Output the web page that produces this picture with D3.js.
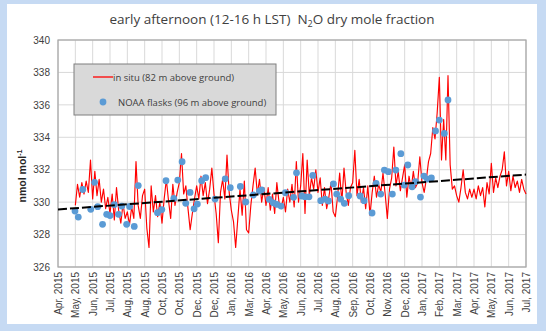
<!DOCTYPE html>
<html lang="en">
<head>
<meta charset="utf-8">
<title>N2O dry mole fraction</title>
<script src="https://cdn.jsdelivr.net/npm/d3@7"></script>
<style>
body { margin:0; background:#c6daf3; }
#chart { position:relative; width:546px; height:331px; }
.tick text { font-family:"Liberation Sans", Arial, sans-serif; font-size:10px; fill:#404040; }
.grid line { stroke:#d9d9d9; stroke-width:1px; }
.title { font-family:"Open Sans", "Noto Sans", sans-serif; font-size:13.5px; fill:#404040; white-space:pre; }
.legend text { font-family:"Open Sans", "Noto Sans", sans-serif; font-size:9.5px; fill:#404040; }
</style>
</head>
<body>
<div id="chart"></div>
<script>
// axis labels along the bottom (one per category tick)
var tickLabels = ["Apr, 2015","May, 2015","Jun, 2015","Jul, 2015","Aug, 2015","Aug, 2015",
  "Oct, 2015","Oct, 2015","Dec, 2015","Dec, 2015","Jan, 2016","Mar, 2016","Apr, 2016",
  "May, 2016","Jun, 2016","Jul, 2016","Aug, 2016","Sep, 2016","Oct, 2016","Nov, 2016",
  "Dec, 2016","Jan, 2017","Feb, 2017","Mar, 2017","Apr, 2017","May, 2017","Jun, 2017","Jul, 2017"];
var yTicks = [326, 328, 330, 332, 334, 336, 338, 340];

// in situ record, 8 samples per tick, starting at tick 1
var perTick = 8, insituStart = 1;
var insitu = [
  329.8,331.1,330.3,331.2,330.5,331.3,330.6,332.6,
  330.2,331.9,330.4,331.4,330.0,330.8,329.6,330.3,
  329.3,330.5,328.9,330.9,329.5,328.7,329.9,329.0,
  329.4,328.6,329.7,329.0,332.5,329.8,329.0,330.4,
  330.8,328.4,327.2,331.0,329.4,330.4,329.1,330.0,
  328.7,330.2,331.4,330.1,329.0,331.1,329.8,330.6,
  331.2,333.0,330.5,331.0,329.6,328.3,329.3,330.2,
  331.0,330.2,331.6,330.4,331.2,329.9,330.8,332.1,
  330.5,329.3,327.5,330.6,331.4,330.2,332.9,330.6,
  329.5,328.8,327.2,329.0,330.8,329.2,331.3,328.3,
  328.1,329.8,331.0,332.1,330.5,331.4,330.0,330.9,
  329.8,330.9,329.5,330.5,329.3,331.2,330.0,329.6,
  330.3,329.4,330.8,330.0,331.1,329.7,332.5,330.0,
  331.0,333.0,329.3,332.6,330.4,331.5,330.8,332.0,
  330.6,331.5,329.8,330.9,329.6,330.3,331.2,329.4,
  329.1,330.3,331.8,330.0,332.1,330.6,329.8,330.9,
  331.2,333.2,330.4,331.4,330.0,330.9,329.6,331.0,
  329.2,330.6,331.6,330.3,331.1,330.6,331.8,330.5,
  329.0,330.8,331.5,333.4,331.0,331.9,330.7,331.5,
  332.3,330.3,331.6,330.8,331.9,330.9,331.2,332.8,
  331.2,330.6,331.4,332.5,333.0,334.6,333.9,335.5,
  337.7,332.6,335.1,332.6,337.8,332.3,330.8,331.0,
  330.4,330.0,330.9,332.0,330.6,330.2,330.8,330.3,
  330.8,330.2,331.0,330.4,330.9,329.7,331.2,330.5,
  332.4,330.6,331.5,330.9,331.6,332.0,333.1,331.0,
  331.9,330.7,331.6,330.9,331.3,330.6,331.4,330.8,
  330.5
];

// NOAA flask samples: position on the tick axis, value
var flaskPos = [0.98,1.17,1.43,1.89,2.11,2.29,2.57,2.81,3.00,3.25,3.49,3.68,3.96,4.13,4.40,4.63,
  5.74,5.99,6.23,6.68,6.91,7.16,7.37,7.62,7.85,8.04,8.29,8.52,9.06,9.65,9.94,10.52,10.83,
  11.27,11.62,11.75,12.19,12.42,12.62,12.87,13.12,13.59,13.76,14.06,14.25,14.48,14.70,
  15.16,15.41,15.60,15.89,16.08,16.31,16.52,16.77,17.43,17.66,18.12,18.35,18.62,18.83,
  19.06,19.29,19.49,19.78,19.97,20.18,20.43,20.63,20.91,21.11,21.31,21.54,21.78,22.00,
  22.29,22.50];
var flaskVal = [329.45,329.08,330.78,329.56,331.22,329.72,328.63,329.25,329.17,329.85,329.25,
  329.76,328.63,329.73,328.50,331.02,329.35,329.54,331.32,330.23,331.36,332.49,329.93,330.60,
  329.59,329.88,331.32,331.51,330.19,331.44,330.89,330.97,330.01,330.44,330.68,330.75,330.17,
  329.96,329.86,329.76,330.58,330.30,331.81,330.38,330.33,330.33,331.65,330.09,330.19,330.07,
  331.12,330.50,330.19,329.93,330.40,330.38,330.09,329.33,331.16,330.50,331.98,331.88,330.50,
  331.98,332.99,331.05,332.29,330.95,331.27,330.31,331.61,331.42,331.49,334.39,335.06,334.24,
  336.30];

// linear trend, value at first and last tick
var trendEnds = [329.55, 331.7];

var W = 546, H = 331;
var m = {left:58, right:20, top:40, bottom:64};

var svg = d3.select("#chart").append("svg").attr("width", W).attr("height", H);

// white panel inside the blue frame
svg.append("rect").attr("x", 7).attr("y", 4).attr("width", 530).attr("height", 320)
  .attr("fill", "#ffffff");

var x = d3.scaleLinear().domain([0, tickLabels.length - 1]).range([m.left, W - m.right]);
var y = d3.scaleLinear().domain([326, 340]).range([H - m.bottom, m.top]);

// grid
svg.append("g").attr("class", "grid")
  .selectAll("line.h").data(yTicks).enter().append("line")
    .attr("x1", x.range()[0]).attr("x2", x.range()[1])
    .attr("y1", function(d){ return y(d); }).attr("y2", function(d){ return y(d); });
svg.append("g").attr("class", "grid")
  .selectAll("line.v").data(d3.range(tickLabels.length)).enter().append("line")
    .attr("x1", function(d){ return x(d); }).attr("x2", function(d){ return x(d); })
    .attr("y1", y.range()[0]).attr("y2", y.range()[1]);

// plot frame
svg.append("rect")
  .attr("x", x.range()[0]).attr("y", y.range()[1])
  .attr("width", x.range()[1] - x.range()[0]).attr("height", y.range()[0] - y.range()[1])
  .attr("fill", "none").attr("stroke", "#a6a6a6").attr("stroke-width", 1.2);

// axes
var yAxis = svg.append("g").attr("transform", "translate(" + m.left + ",0)")
  .call(d3.axisLeft(y).tickValues(yTicks).tickSize(0).tickPadding(8).tickFormat(d3.format("d")));
yAxis.select(".domain").remove();

var xAxis = svg.append("g").attr("transform", "translate(0," + (H - m.bottom) + ")")
  .call(d3.axisBottom(x).tickValues(d3.range(tickLabels.length)).tickSize(0)
    .tickFormat(function(d){ return tickLabels[d]; }));
xAxis.select(".domain").remove();
xAxis.selectAll("text")
  .attr("transform", "rotate(-90)")
  .attr("text-anchor", "end")
  .attr("x", -5).attr("y", 0).attr("dy", "0.35em");

// in situ line
var line = d3.line()
  .x(function(d, i){ return x(insituStart + i / perTick); })
  .y(function(d){ return y(d); });
svg.append("path").datum(insitu)
  .attr("d", line).attr("fill", "none")
  .attr("stroke", "#ff0000").attr("stroke-width", 1.15).attr("stroke-linejoin", "round");

// flasks
svg.append("g").selectAll("circle").data(flaskPos).enter().append("circle")
  .attr("cx", function(d){ return x(d); })
  .attr("cy", function(d, i){ return y(flaskVal[i]); })
  .attr("r", 3.4).attr("fill", "#5b9bd5");

// trend
svg.append("line")
  .attr("x1", x(0)).attr("y1", y(trendEnds[0]))
  .attr("x2", x(tickLabels.length - 1)).attr("y2", y(trendEnds[1]))
  .attr("stroke", "#000").attr("stroke-width", 2).attr("stroke-dasharray", "9,3");

// legend
var lg = svg.append("g").attr("class", "legend");
lg.append("rect").attr("x", 74).attr("y", 64).attr("width", 202).attr("height", 51)
  .attr("fill", "#d9d9d9").attr("stroke", "#7f7f7f").attr("stroke-width", 1);
lg.append("line").attr("x1", 93).attr("x2", 113).attr("y1", 77).attr("y2", 77)
  .attr("stroke", "#ff0000").attr("stroke-width", 1.3);
lg.append("text").attr("x", 113).attr("y", 80.5).text("in situ (82 m above ground)");
lg.append("circle").attr("cx", 103).attr("cy", 102).attr("r", 3.4).attr("fill", "#5b9bd5");
lg.append("text").attr("x", 118).attr("y", 105.5).text("NOAA flasks (96 m above ground)");

// title
var t = svg.append("text").attr("class", "title").attr("x", 272).attr("y", 24)
  .attr("text-anchor", "middle");
t.append("tspan").text("early afternoon (12-16 h LST)  N");
t.append("tspan").attr("font-size", "9px").attr("dy", 3).text("2");
t.append("tspan").attr("dy", -3).text("O dry mole fraction");

// y axis title
var yt = svg.append("text")
  .attr("transform", "translate(26,176) rotate(-90)")
  .attr("text-anchor", "middle")
  .attr("font-family", "'Liberation Sans', Arial, sans-serif")
  .attr("font-size", "10.5px").attr("font-weight", "bold").attr("fill", "#262626");
yt.append("tspan").text("nmol mol");
yt.append("tspan").attr("font-size", "7px").attr("dy", -4).text("-1");
</script>
</body>
</html>
